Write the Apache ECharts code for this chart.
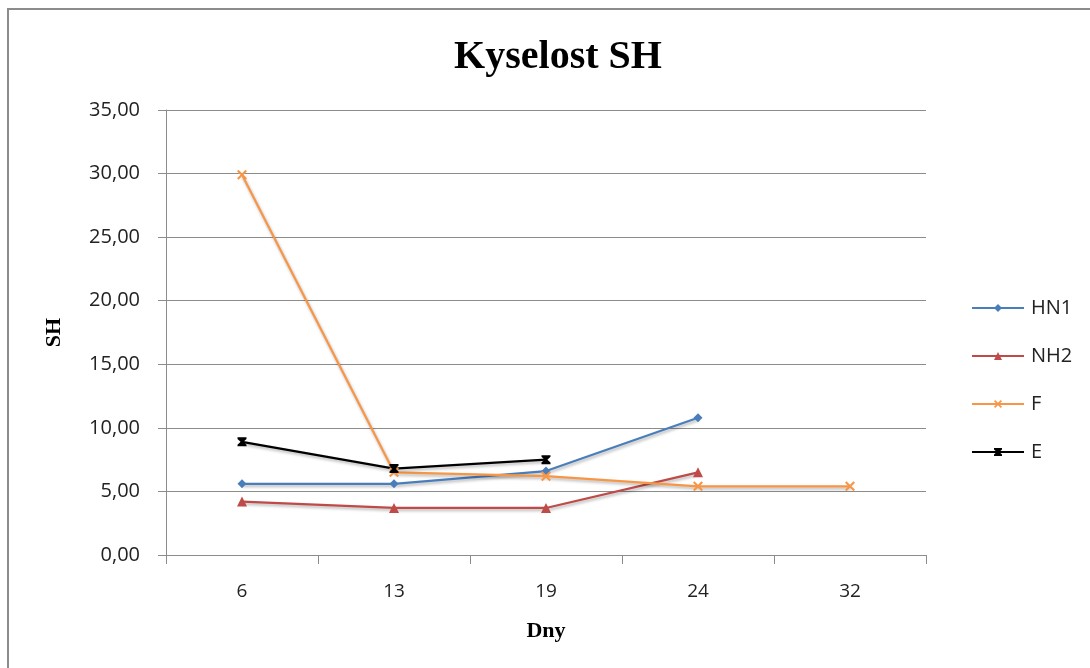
<!DOCTYPE html>
<html>
<head>
<meta charset="utf-8">
<script src="https://cdn.jsdelivr.net/npm/echarts@6/dist/echarts.min.js"></script>
<style>
  html, body { margin: 0; padding: 0; background: #fff; }
  #frame { position: absolute; left: 7px; top: 8px; right: -10px; bottom: -10px; border: 2px solid #8c8c8c; }
  #chart { width: 1090px; height: 668px; position: absolute; left: 0; top: 0; }
</style>
</head>
<body>
<div id="frame"></div>
<div id="chart"></div>
<script>
// Days of measurement
const days = ['6', '13', '19', '24', '32'];
// Acidity (SH) per sample
const hn1 = [5.6, 5.6, 6.6, 10.8, null];
const nh2 = [4.2, 3.7, 3.7, 6.5, null];
const f   = [29.9, 6.5, 6.2, 5.4, 5.4];
const e   = [8.9, 6.8, 7.5, null, null];
const seriesNames = ['HN1', 'NH2', 'F', 'E'];

const colors = ['#4a7ebb', '#be4b48', '#f79646', '#000000'];
const crossPath = 'path://M0,1.5 L1.5,0 L5,3.5 L8.5,0 L10,1.5 L6.5,5 L10,8.5 L8.5,10 L5,6.5 L1.5,10 L0,8.5 L3.5,5 Z';
const starPath = 'path://M0,0 L10,0 L10,1.8 L6.6,5 L10,8.2 L10,10 L0,10 L0,8.2 L3.4,5 L0,1.8 Z';
const symbols = ['diamond', 'triangle', crossPath, starPath];
const symbolSizes = [9, 10, 10, 9];

const fmt = v => v.toFixed(2).replace('.', ',');

const chart = echarts.init(document.getElementById('chart'), null, { renderer: 'canvas' });

const shadow = { shadowColor: 'rgba(0,0,0,0.3)', shadowBlur: 3, shadowOffsetX: 1, shadowOffsetY: 2 };

chart.setOption({
  animation: false,
  title: {
    text: 'Kyselost SH',
    left: 553, top: 33, textAlign: 'center',
    textStyle: { fontFamily: 'Liberation Serif', fontWeight: 'bold', fontSize: 40, color: '#000' }
  },
  legend: {
    orient: 'vertical',
    left: 966, top: 293,
    itemWidth: 52, itemHeight: 10, itemGap: 28,
    textStyle: { fontFamily: 'Open Sans', fontSize: 20, color: '#222', padding: [0, 0, 0, 2] },
    data: seriesNames
  },
  grid: { left: 166, right: 164, top: 110, bottom: 113 },
  xAxis: {
    type: 'category',
    data: days,
    boundaryGap: true,
    name: 'Dny', nameLocation: 'middle', nameGap: 65,
    nameTextStyle: { fontFamily: 'Liberation Serif', fontWeight: 'bold', fontSize: 22, color: '#000' },
    axisLine: { lineStyle: { color: '#8c8c8c', width: 1 } },
    axisTick: { show: true, length: 9, lineStyle: { color: '#8c8c8c' } },
    axisLabel: { margin: 27, fontFamily: 'Open Sans', fontSize: 19, color: '#222' }
  },
  yAxis: {
    type: 'value',
    min: 0, max: 35, interval: 5,
    name: 'SH', nameLocation: 'middle', nameGap: 101, nameRotate: 90,
    nameTextStyle: { fontFamily: 'Liberation Serif', fontWeight: 'bold', fontSize: 22, color: '#000' },
    axisLine: { show: true, lineStyle: { color: '#8c8c8c', width: 1 } },
    axisTick: { show: true, length: 8, lineStyle: { color: '#8c8c8c' } },
    axisLabel: { margin: 26, fontFamily: 'Open Sans', fontSize: 20, color: '#222', formatter: fmt },
    splitLine: { lineStyle: { color: '#8c8c8c', width: 1 } }
  },
  series: [hn1, nh2, f, e].map((d, i) => ({
    name: seriesNames[i],
    type: 'line',
    data: d,
    connectNulls: false,
    symbol: symbols[i],
    symbolSize: symbolSizes[i],
    showAllSymbol: true,
    itemStyle: { color: colors[i] },
    lineStyle: Object.assign({ color: colors[i], width: 2.2 }, shadow)
  }))
});
</script>
</body>
</html>
